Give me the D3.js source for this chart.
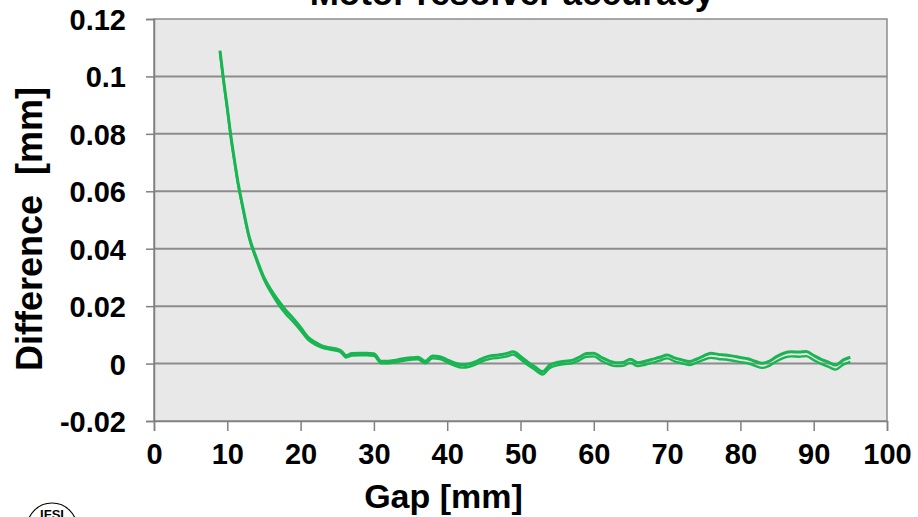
<!DOCTYPE html>
<html><head><meta charset="utf-8">
<script src="https://cdn.jsdelivr.net/npm/d3@7"></script>
<style>body{margin:0;background:#fff}svg{display:block}text{font-family:"Liberation Sans",Arial,sans-serif;font-weight:bold;fill:#000}</style>
</head><body>
<script>
const title = "Motor resolver accuracy";
const xLabel = "Gap [mm]";
const yLabel = "Difference  [mm]";
const xTicks = [0,10,20,30,40,50,60,70,80,90,100];
const yTicks = [-0.02,0,0.02,0.04,0.06,0.08,0.1,0.12];
const yTickLabels = ["-0.02","0","0.02","0.04","0.06","0.08","0.1","0.12"];
const gap = [9,9.5,10,10.5,11,11.5,12,13,14,15,16,17,18,19,20,21,22,23,24,25,25.5,26.2,27,28,29,30,31,32,33,34,35,36,37,38,39,40,41,42,43,44,45,46,47,48,49,50,51,52,53,54,55,56,57,58,59,60,61,62,63,64,65,66,67,68,69,70,71,72,73,74,75,76,77,78,79,80,81,82,83,84,85,86,87,88,89,90,91,92,93,94,95];
const upper = [0.109,0.0985,0.089,0.079,0.0705,0.0625,0.056,0.044,0.0365,0.030,0.0255,0.0218,0.0185,0.0157,0.0126,0.0092,0.0074,0.0061,0.0055,0.005,0.0045,0.0028,0.0035,0.0036,0.0036,0.0034,0.0008,0.0008,0.0012,0.0017,0.002,0.0022,0.0008,0.0026,0.0024,0.0013,0.0002,-0.0004,-0.0001,0.0008,0.002,0.0027,0.003,0.0034,0.0041,0.0025,0.0005,-0.0012,-0.0028,-0.0005,0.0004,0.0008,0.0011,0.0022,0.0035,0.0036,0.0022,0.001,0.0003,0.0004,0.0015,0.0003,0.0008,0.0015,0.0022,0.003,0.002,0.0013,0.0007,0.0015,0.0027,0.0036,0.0032,0.003,0.0026,0.0021,0.0017,0.0008,0.0001,0.0009,0.0025,0.0037,0.0041,0.004,0.0042,0.0028,0.0015,0.0005,-0.0005,0.0012,0.0022];
const lower = [0.1085,0.098,0.0885,0.0785,0.070,0.062,0.0555,0.0435,0.0358,0.0293,0.0245,0.0205,0.0172,0.0145,0.0115,0.0083,0.0066,0.0055,0.0049,0.0044,0.0039,0.0021,0.0028,0.0029,0.0029,0.0027,0.0001,0.0001,0.0005,0.001,0.0013,0.0015,0.0001,0.0018,0.0016,0.0004,-0.0007,-0.0014,-0.0011,-0.0002,0.001,0.0017,0.002,0.0024,0.0031,0.0015,-0.0005,-0.0022,-0.0038,-0.0015,-0.0006,-0.0002,0.0001,0.0011,0.0024,0.0025,0.001,-0.0002,-0.0009,-0.0008,0.0003,-0.0009,-0.0004,0.0003,0.001,0.0018,0.0008,0.0001,-0.0005,0.0003,0.0013,0.002,0.0016,0.0014,0.001,0.0005,0.0001,-0.0008,-0.0015,-0.0007,0.0009,0.0021,0.0025,0.0024,0.0026,0.0012,-0.0001,-0.0011,-0.0021,-0.0004,0.0006];

const W = 918, H = 517;
const L = 154, R = 887, T = 19, B = 421;
const svg = d3.select("body").append("svg").attr("width", W).attr("height", H);
const x = d3.scaleLinear().domain([0,100]).range([L,R]);
const y = d3.scaleLinear().domain([-0.02,0.12]).range([B,T]);

svg.append("rect").attr("x",L).attr("y",T).attr("width",R-L).attr("height",B-T).attr("fill","#e8e8e8").attr("stroke","#8c8c8c").attr("stroke-width",1.5);

svg.append("g").selectAll("line").data(yTicks.filter(v=>v>-0.02 && v<0.12)).join("line")
  .attr("x1",L).attr("x2",R).attr("y1",d=>y(d)).attr("y2",d=>y(d))
  .attr("stroke","#8c8c8c").attr("stroke-width",2);

const yAx = svg.append("g").attr("transform",`translate(${L},0)`)
  .call(d3.axisLeft(y).tickValues(yTicks).tickFormat((d,i)=>yTickLabels[i]).tickSize(8).tickPadding(20));
yAx.select(".domain").attr("stroke","#808080").attr("stroke-width",1.5);
yAx.selectAll(".tick line").attr("stroke","#808080").attr("stroke-width",1.5);
yAx.selectAll("text").attr("font-size",29).attr("dy","0.36em");

const xAx = svg.append("g").attr("transform",`translate(0,${B})`)
  .call(d3.axisBottom(x).tickValues(xTicks).tickSize(10).tickPadding(12));
xAx.select(".domain").attr("stroke","#808080").attr("stroke-width",1.5);
xAx.selectAll(".tick line").attr("stroke","#808080").attr("stroke-width",1.5);
xAx.selectAll("text").attr("font-size",29);

const line = d3.line().x((d,i)=>x(gap[i])).y(d=>y(d)).curve(d3.curveMonotoneX);
svg.append("path").datum(lower).attr("d",line).attr("fill","none").attr("stroke","#19b552").attr("stroke-width",2.4);
svg.append("path").datum(upper).attr("d",line).attr("fill","none").attr("stroke","#19b552").attr("stroke-width",3);

svg.append("text").attr("x",512).attr("y",5).attr("text-anchor","middle").attr("font-size",35).text(title);
svg.append("text").attr("x",(L+R)/2 - 77).attr("y",508).attr("text-anchor","middle").attr("font-size",34).text(xLabel);
svg.append("text").attr("transform",`translate(42,${229}) rotate(-90)`).attr("text-anchor","middle").attr("font-size",36).style("white-space","pre").text(yLabel);

// logo
svg.append("circle").attr("cx",52).attr("cy",528).attr("r",25).attr("fill","none").attr("stroke","#000").attr("stroke-width",1.2);
svg.append("text").attr("x",52).attr("y",519).attr("text-anchor","middle").attr("font-size",13).text("IFSI");
</script>
</body></html>
